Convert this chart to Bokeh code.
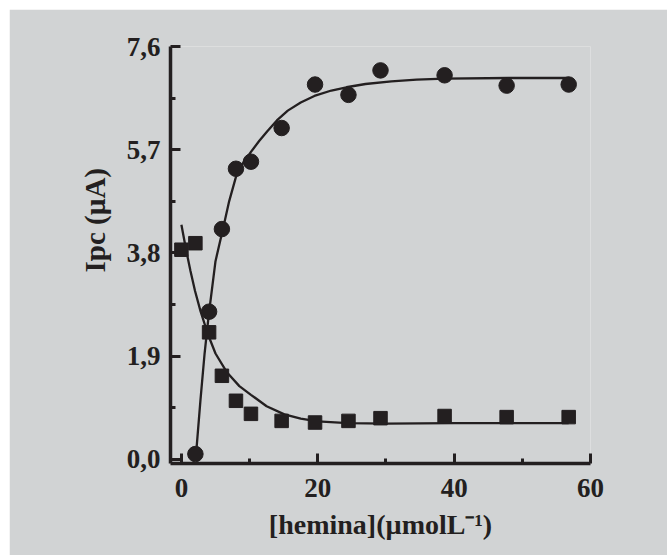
from bokeh.plotting import figure
from bokeh.embed import file_html
from bokeh.resources import INLINE
from bokeh.models import FixedTicker, CustomJSTickFormatter, Range1d, Spacer, Title
from bokeh.layouts import column, row

# ---- data ----
circle_x = [2.05, 4.06, 5.94, 8.0, 10.2, 14.7, 19.6, 24.5, 29.2, 38.6, 47.7, 56.8]
circle_y = [0.10, 2.72, 4.24, 5.35, 5.48, 6.10, 6.90, 6.71, 7.16, 7.07, 6.88, 6.90]

square_x = [0.0, 2.05, 4.06, 5.94, 8.0, 10.2, 14.7, 19.6, 24.5, 29.2, 38.6, 47.7, 56.8]
square_y = [3.86, 3.98, 2.34, 1.54, 1.08, 0.84, 0.71, 0.68, 0.71, 0.76, 0.80, 0.78, 0.78]

circle_fit_x = [2.15, 2.8, 3.4, 4.0, 5.0, 6.2, 7.0, 8.0, 9.0, 10.2, 11.4, 12.6, 14.0,
                15.6, 17.5, 19.5, 22.0, 24.2, 27.0, 30.8, 34.5, 38.6, 48.0, 56.8]
circle_fit_y = [0.10, 1.10, 1.95, 2.65, 3.65, 4.30, 4.75, 5.20, 5.45, 5.66, 5.86, 6.04,
                6.24, 6.42, 6.57, 6.69, 6.79, 6.85, 6.91, 6.96, 6.99, 7.01, 7.02, 7.02]

square_fit_x = [0.0, 0.7, 1.33, 2.0, 2.8, 3.9, 5.0, 6.7, 8.5, 10.2, 12.5, 15.1, 17.5,
                20.0, 24.4, 30.0, 40.0, 56.8]
square_fit_y = [4.32, 3.85, 3.47, 3.10, 2.73, 2.30, 1.95, 1.60, 1.35, 1.19, 0.98, 0.83,
                0.75, 0.70, 0.67, 0.66, 0.67, 0.67]

y_ticks = [0.0, 1.9, 3.8, 5.7, 7.6]
y_minor = [0.95, 2.85, 4.75, 6.65]
x_ticks = [0, 20, 40, 60]
x_minor = [10, 30, 50]

x_label = "[hemina](\u00b5molL\u207b\u00b9)"
y_label = "Ipc (\u00b5A)"

BG = "#d1d3d4"
INK = "#231f20"
FONT = "Liberation Serif"

p = figure(frame_width=420, frame_height=417, output_backend="svg",
           toolbar_location=None,
           x_range=Range1d(-1.6, 60), y_range=Range1d(-0.074, 7.6),
           min_border_left=161, min_border_right=77, min_border_top=37,
           min_border_bottom=92)
p.background_fill_color = BG
p.border_fill_color = BG
p.outline_line_color = None
p.xgrid.visible = False
p.ygrid.visible = False

p.line(circle_fit_x, circle_fit_y, line_color=INK, line_width=2.3)
p.line(square_fit_x, square_fit_y, line_color=INK, line_width=2.3)
p.scatter(circle_x, circle_y, marker="circle", size=15.5, fill_color=INK, line_color=INK)
p.scatter(square_x, square_y, marker="square", size=13.5, fill_color=INK, line_color=INK)

fmt = CustomJSTickFormatter(code="return tick.toFixed(1).replace('.', ',');")

for ax in (p.xaxis[0], p.yaxis[0]):
    ax.axis_line_width = 3.5
    ax.axis_line_color = INK
    ax.major_tick_line_color = INK
    ax.minor_tick_line_color = INK
    ax.major_tick_line_width = 3
    ax.minor_tick_line_width = 3
    ax.major_tick_in = 10
    ax.major_tick_out = 0
    ax.minor_tick_in = 5
    ax.minor_tick_out = 0
    ax.major_label_text_font = FONT
    ax.major_label_text_font_style = "bold"
    ax.major_label_text_font_size = "27px"
    ax.major_label_text_color = INK
    ax.axis_label_text_font = FONT
    ax.axis_label_text_font_style = "bold"
    ax.axis_label_text_font_size = "28px"
    ax.axis_label_text_color = INK

p.yaxis[0].ticker = FixedTicker(ticks=y_ticks, minor_ticks=y_minor)
p.yaxis[0].formatter = fmt
p.yaxis[0].major_label_standoff = 10

p.xaxis[0].ticker = FixedTicker(ticks=x_ticks, minor_ticks=x_minor)
p.xaxis[0].axis_label = x_label
p.xaxis[0].major_label_standoff = 15
p.xaxis[0].axis_label_standoff = 9

# y-axis title, placed higher than the frame centre as in the reference
p.add_layout(Title(text=y_label, align="left", offset=191, standoff=26,
                   text_font=FONT, text_font_style="bold", text_font_size="29px",
                   text_color=INK), "left")

layout = column(Spacer(height=9, width=667), row(Spacer(width=9, height=546), p))
open("out.html", "w").write(file_html(layout, INLINE))
